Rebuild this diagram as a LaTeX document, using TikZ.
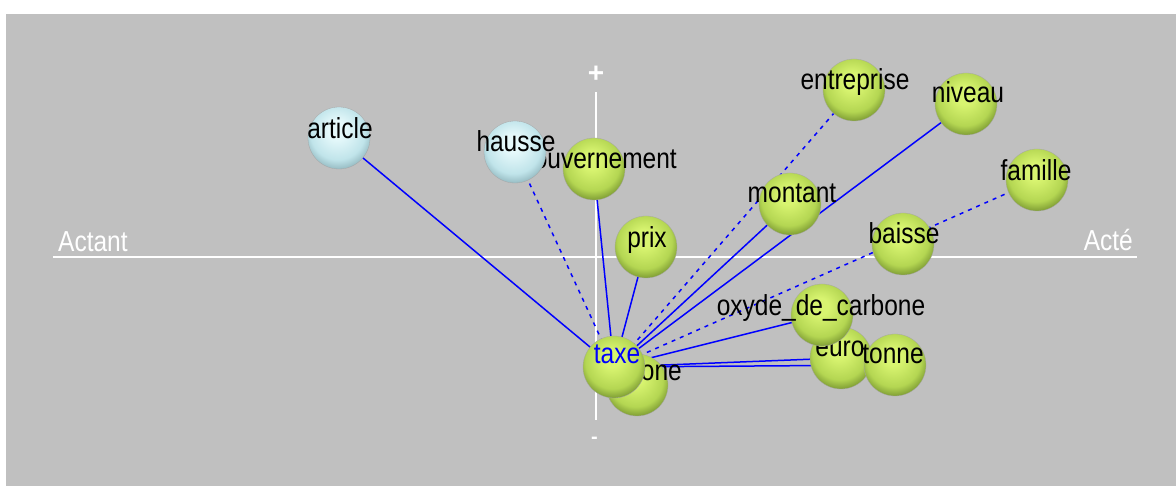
\documentclass[tikz,border=0pt]{standalone}
\usepackage{fontspec}
\setmainfont{Liberation Sans}
\usepackage{graphicx}
\definecolor{bggray}{RGB}{192,192,192}
\definecolor{edgeblue}{RGB}{0,0,255}
\definecolor{gL}{RGB}{216,244,112}
\definecolor{gM}{RGB}{180,214,82}
\definecolor{gD}{RGB}{90,118,32}
\definecolor{bL}{RGB}{230,249,251}
\definecolor{bM}{RGB}{192,228,234}
\definecolor{bD}{RGB}{122,160,168}
\pgfdeclareradialshading{gball}{\pgfpoint{-2bp}{8bp}}{color(0bp)=(gL); color(7bp)=(gL); color(22bp)=(gM); color(33bp)=(gD); color(50bp)=(gD)}
\pgfdeclareradialshading{bball}{\pgfpoint{-2bp}{8bp}}{color(0bp)=(bL); color(7bp)=(bL); color(22bp)=(bM); color(33bp)=(bD); color(50bp)=(bD)}
\newcommand{\talltxt}[1]{\scalebox{1}[1.18]{#1}}
\tikzset{
  gsphere/.style={circle, minimum size=62pt, inner sep=0pt, shading=gball, draw=black!35, line width=0.3pt},
  bsphere/.style={circle, minimum size=62pt, inner sep=0pt, shading=bball, draw=black!35, line width=0.3pt},
  wordlbl/.style={anchor=base, inner sep=0pt, font=\fontsize{24.5}{24.5}\selectfont, text=black},
  axislbl/.style={anchor=base, inner sep=0pt, font=\fontsize{24.5}{24.5}\selectfont, text=white},
  signlbl/.style={inner sep=0pt, font=\fontsize{28}{28}\selectfont\bfseries, text=white},
  axisline/.style={draw=white, line width=2pt},
  solidedge/.style={draw=edgeblue, line width=1.5pt},
  dashededge/.style={draw=edgeblue, line width=1.5pt, dash pattern=on 4pt off 5pt},
}
\begin{document}
\begin{tikzpicture}[x=1pt,y=-1pt]
\useasboundingbox (0,0) rectangle (1176,486);
\fill[white] (0,0) rectangle (1176,486);
\fill[bggray] (6,14) rectangle (1176,486);
% axes
\coordinate (axL) at (53,257);
\coordinate (axR) at (1137,257);
\coordinate (axT) at (595.5,92);
\coordinate (axB) at (595.5,420);
\draw[axisline] (axL) -- (axR);
\draw[axisline] (axT) -- (axB);
\node[signlbl] (plus) at (596,74) {+};
\node[signlbl, font=\fontsize{20}{20}\selectfont\bfseries] (minus) at (594.5,440) {-};
\node[axislbl, anchor=base west] (actant) at (58,252) {\talltxt{Actant}};
\node[axislbl, anchor=base east] (acte) at (1133,251) {\talltxt{Acté}};
% sphere centres
\coordinate (article) at (339,138);
\coordinate (hausse) at (515,152);
\coordinate (gouvernement) at (594,169);
\coordinate (prix) at (646,247);
\coordinate (montant) at (790,204);
\coordinate (entreprise) at (854,90);
\coordinate (niveau) at (966,104);
\coordinate (baisse) at (903,244);
\coordinate (famille) at (1037,180);
\coordinate (oxyde) at (822,315);
\coordinate (euro) at (841,358);
\coordinate (tonne) at (895,365);
\coordinate (carbone) at (637,385);
\coordinate (taxe) at (614,367);
% edges
\draw[solidedge] (taxe) -- (article);
\draw[dashededge] (taxe) -- (hausse);
\draw[solidedge] (taxe) -- (gouvernement);
\draw[solidedge] (taxe) -- (prix);
\draw[solidedge] (taxe) -- (montant);
\draw[dashededge] (taxe) -- (entreprise);
\draw[solidedge] (taxe) -- (niveau);
\draw[dashededge] (taxe) -- (famille);
\draw[solidedge] (taxe) -- (oxyde);
\draw[solidedge] (taxe) -- (euro);
\draw[solidedge] (taxe) -- (tonne);
\draw[solidedge] (taxe) -- (carbone);
% spheres and labels (back to front)
\node[bsphere] (s-article) at (article) {};
\node[wordlbl] (l-article) at (340,139) {\talltxt{article}};
\node[gsphere] (s-gouvernement) at (gouvernement) {};
\node[wordlbl, anchor=base east] (l-gouvernement) at (677,169) {\talltxt{gouvernement}};
\node[bsphere] (s-hausse) at (hausse) {};
\node[wordlbl] (l-hausse) at (516,152) {\talltxt{hausse}};
\node[gsphere] (s-prix) at (prix) {};
\node[wordlbl] (l-prix) at (647,248) {\talltxt{prix}};
\node[gsphere] (s-montant) at (montant) {};
\node[wordlbl] (l-montant) at (792,203) {\talltxt{montant}};
\node[gsphere] (s-entreprise) at (entreprise) {};
\node[wordlbl] (l-entreprise) at (855,90) {\talltxt{entreprise}};
\node[gsphere] (s-niveau) at (niveau) {};
\node[wordlbl] (l-niveau) at (968,103) {\talltxt{niveau}};
\node[gsphere] (s-baisse) at (baisse) {};
\node[wordlbl] (l-baisse) at (904,244) {\talltxt{baisse}};
\node[gsphere] (s-famille) at (famille) {};
\node[wordlbl] (l-famille) at (1036,181) {\talltxt{famille}};
\node[gsphere] (s-carbone) at (carbone) {};
\node[wordlbl, anchor=base east] (l-carbone) at (682,381) {\talltxt{carbone}};
\node[gsphere] (s-taxe) at (taxe) {};
\node[wordlbl, text=edgeblue] (l-taxe) at (617,363) {\talltxt{taxe}};
\node[gsphere] (s-euro) at (euro) {};
\node[wordlbl] (l-euro) at (840,357) {\talltxt{euro}};
\node[gsphere] (s-tonne) at (tonne) {};
\node[wordlbl] (l-tonne) at (893,363) {\talltxt{tonne}};
\node[gsphere] (s-oxyde) at (oxyde) {};
\node[wordlbl] (l-oxyde) at (821,316) {\talltxt{oxyde\_de\_carbone}};
\end{tikzpicture}
\end{document}
